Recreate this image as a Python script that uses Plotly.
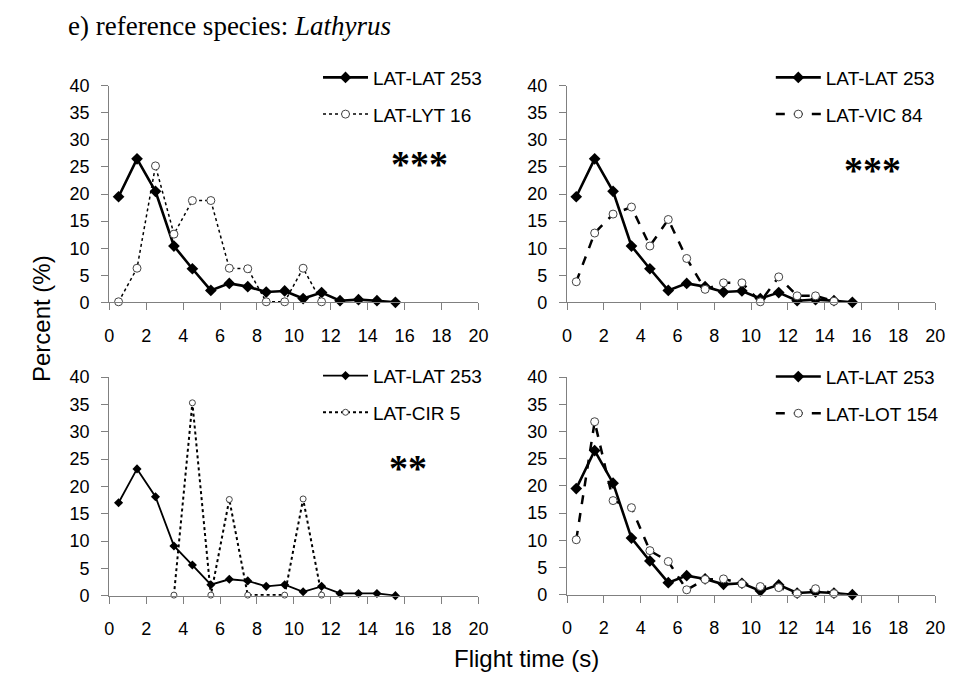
import plotly.graph_objects as go

# flight time bins (s), bin centres
flight_time = [0.5, 1.5, 2.5, 3.5, 4.5, 5.5, 6.5, 7.5, 8.5, 9.5, 10.5, 11.5, 12.5, 13.5, 14.5, 15.5]

lat_lat_253 = [19.5, 26.5, 20.5, 10.4, 6.2, 2.2, 3.5, 2.9, 1.9, 2.1, 0.7, 1.8, 0.3, 0.5, 0.3, 0.0]
lat_lat_253_c = [17.0, 23.2, 18.1, 9.1, 5.6, 2.0, 3.0, 2.7, 1.7, 2.0, 0.7, 1.7, 0.4, 0.4, 0.4, 0.0]

lyt_time = [0.5, 1.5, 2.5, 3.5, 4.5, 5.5, 6.5, 7.5, 8.5, 9.5, 10.5, 11.5]
lat_lyt_16 = [0.1, 6.3, 25.2, 12.6, 18.8, 18.8, 6.3, 6.2, 0.1, 0.1, 6.3, 0.1]

vic_time = [0.5, 1.5, 2.5, 3.5, 4.5, 5.5, 6.5, 7.5, 8.5, 9.5, 10.5, 11.5, 12.5, 13.5, 14.5]
lat_vic_84 = [3.8, 12.8, 16.3, 17.6, 10.4, 15.3, 8.1, 2.4, 3.6, 3.6, 0.1, 4.7, 1.2, 1.2, 0.2]

cir_time = [3.5, 4.5, 5.5, 6.5, 7.5, 8.5, 9.5, 10.5, 11.5]
lat_cir_5 = [0.1, 35.3, 0.1, 17.6, 0.1, None, 0.1, 17.7, 0.1]

lot_time = [0.5, 1.5, 2.5, 3.5, 4.5, 5.5, 6.5, 7.5, 8.5, 9.5, 10.5, 11.5, 12.5, 13.5, 14.5]
lat_lot_154 = [10.1, 31.8, 17.3, 16.0, 8.1, 6.1, 0.9, 2.8, 2.9, 2.0, 1.5, 1.3, 0.2, 1.1, 0.2]

panels = [
    # (ref values, comp x, comp y, comp name, dash, comp width, stars, thin)
    (lat_lat_253, lyt_time, lat_lyt_16, "LAT-LYT 16", "dot", 1.5, "***", False),
    (lat_lat_253, vic_time, lat_vic_84, "LAT-VIC 84", "dash", 2.5, "***", False),
    (lat_lat_253_c, cir_time, lat_cir_5, "LAT-CIR 5", "dot", 2, "**", True),
    (lat_lat_253, lot_time, lat_lot_154, "LAT-LOT 154", "dash", 2.5, "", False),
]

W, H = 957, 695
FONT = "Liberation Sans, Arial, sans-serif"
SERIF = "Liberation Serif, Times New Roman, serif"
AXC = "#808080"

x_doms = [(106 / W, 481 / W), (571 / W, 945 / W), (106 / W, 481 / W), (571 / W, 945 / W)]
y_doms = [(1 - 301 / H, 1 - 78 / H), (1 - 301 / H, 1 - 78 / H),
          (1 - 603 / H, 1 - 378 / H), (1 - 602 / H, 1 - 378 / H)]
legend_pos = [(318, 50), (778, 50), (318, 357), (778, 358)]
star_pos = [(16.8, 25.5), (16.6, 24.5), (16.2, 23.3), None]

fig = go.Figure()

for i, (ref, cx, cy, cname, dash, cw, stars, thin) in enumerate(panels):
    n = i + 1
    xa = "x" if n == 1 else "x%d" % n
    ya = "y" if n == 1 else "y%d" % n
    lg = "legend" if n == 1 else "legend%d" % n

    fig.add_trace(go.Scatter(
        x=flight_time, y=ref, mode="lines+markers", name="LAT-LAT 253",
        xaxis=xa, yaxis=ya, legend=lg, legendgroup="a%d" % n, cliponaxis=False,
        line=dict(color="black", width=1.8 if thin else 2.6),
        marker=dict(symbol="diamond", size=7 if thin else 9, color="black"),
    ))
    fig.add_trace(go.Scatter(
        x=cx, y=cy, mode="lines+markers", name=cname, connectgaps=True,
        xaxis=xa, yaxis=ya, legend=lg, legendgroup="b%d" % n, cliponaxis=False,
        line=dict(color="black", width=cw, dash=dash),
        marker=dict(symbol="circle", size=6 if thin else 8, color="white",
                    line=dict(color="#444444", width=1)),
    ))

    fig.layout[xa.replace("x", "xaxis")] = dict(
        domain=x_doms[i], range=[0, 20], anchor=ya, tickvals=list(range(0, 21, 2)),
        showline=True, linecolor=AXC, linewidth=1.3, ticks="outside", ticklen=7,
        tickcolor=AXC, showgrid=False, zeroline=False, ticklabelstandoff=10,
        tickfont=dict(family=FONT, size=18, color="black"),
    )
    fig.layout[ya.replace("y", "yaxis")] = dict(
        domain=y_doms[i], range=[0, 40], anchor=xa, dtick=5,
        showline=True, linecolor=AXC, linewidth=1.3, ticks="outside", ticklen=7,
        tickcolor=AXC, showgrid=False, zeroline=False, ticklabelstandoff=8,
        tickfont=dict(family=FONT, size=18, color="black"),
    )
    lx, ly = legend_pos[i]
    fig.layout[lg] = dict(
        x=lx / W, y=1 - ly / H, xanchor="left", yanchor="top",
        bgcolor="rgba(0,0,0,0)", tracegroupgap=9, itemwidth=45,
        font=dict(family=FONT, size=19, color="black"),
    )
    if stars:
        fig.add_annotation(x=star_pos[i][0], y=star_pos[i][1], xref=xa, yref=ya,
                           text="<b>%s</b>" % stars, showarrow=False,
                           font=dict(family=SERIF, size=38, color="black"))

fig.add_annotation(x=62 / W, y=1 - 16 / H, xref="paper", yref="paper",
                   xanchor="left", yanchor="middle", showarrow=False,
                   text="e) reference species: <i>Lathyrus</i>",
                   font=dict(family=SERIF, size=27, color="black"))
fig.add_annotation(x=22 / W, y=1 - 318 / H, xref="paper", yref="paper",
                   textangle=-90, showarrow=False, text="Percent (%)",
                   font=dict(family=FONT, size=24, color="black"))
fig.add_annotation(x=530 / W, y=1 - 684 / H, xref="paper", yref="paper",
                   showarrow=False, text="Flight time (s)",
                   font=dict(family=FONT, size=24, color="black"))

fig.update_layout(
    width=W, height=H, margin=dict(l=0, r=0, t=0, b=0),
    plot_bgcolor="white", paper_bgcolor="white",
)

fig.write_html("out.html", config={"displayModeBar": False},
               post_script="document.body.style.margin = '0px';")
